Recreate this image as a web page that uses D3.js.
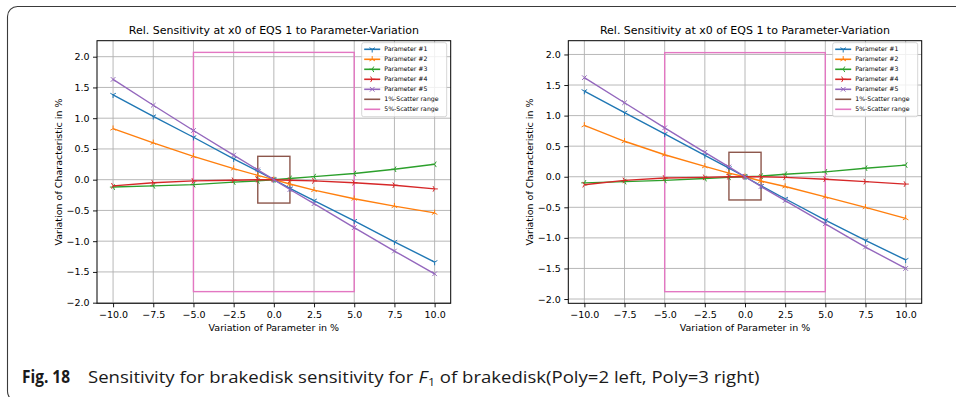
<!DOCTYPE html>
<html>
<head>
<meta charset="utf-8">
<script src="https://cdn.jsdelivr.net/npm/d3@7"></script>
<style>
  body { margin: 0; background: #fff; }
  svg { display: block; font-family: "DejaVu Sans", sans-serif; }
</style>
</head>
<body>
<svg id="fig"></svg>
<script>
const width = 956;
const height = 397;

// Data.
const xValues = [-10, -7.5, -5, -2.5, -1, 0, 1, 2.5, 5, 7.5, 10];
const xTicks = [-10, -7.5, -5, -2.5, 0, 2.5, 5, 7.5, 10];
const yTicks = [-2, -1.5, -1, -0.5, 0, 0.5, 1, 1.5, 2];
const seriesNames = ['Parameter #1', 'Parameter #2', 'Parameter #3', 'Parameter #4', 'Parameter #5'];
const rangeNames = ['1%-Scatter range', '5%-Scatter range'];

// Poly=2 (left)
const leftP1 = [1.38, 1.03, 0.69, 0.34, 0.14, 0, -0.14, -0.34, -0.67, -1.01, -1.34];
const leftP2 = [0.83, 0.60, 0.38, 0.18, 0.07, 0, -0.07, -0.17, -0.31, -0.43, -0.54];
const leftP3 = [-0.12, -0.10, -0.08, -0.04, -0.02, 0, 0.02, 0.05, 0.10, 0.17, 0.25];
const leftP4 = [-0.10, -0.05, -0.02, -0.01, 0.0, 0, -0.01, -0.02, -0.05, -0.09, -0.15];
const leftP5 = [1.63, 1.21, 0.80, 0.40, 0.16, 0, -0.16, -0.39, -0.78, -1.16, -1.53];
// scatter boxes: [x0, x1, y0, y1]
const leftRange1 = [-1, 1, -0.38, 0.38];
const leftRange5 = [-5, 5, -1.82, 2.07];
const leftYDomain = [-2.01, 2.26];

// Poly=3 (right)
const rightP1 = [1.40, 1.05, 0.70, 0.35, 0.14, 0, -0.15, -0.36, -0.71, -1.04, -1.36];
const rightP2 = [0.84, 0.58, 0.36, 0.17, 0.06, 0, -0.07, -0.16, -0.33, -0.50, -0.68];
const rightP3 = [-0.10, -0.08, -0.06, -0.03, -0.01, 0, 0.01, 0.04, 0.08, 0.14, 0.19];
const rightP4 = [-0.13, -0.06, -0.02, -0.01, 0.0, 0, 0.0, -0.01, -0.04, -0.08, -0.12];
const rightP5 = [1.62, 1.21, 0.80, 0.40, 0.16, 0, -0.16, -0.39, -0.77, -1.15, -1.50];
const rightRange1 = [-1, 1, -0.38, 0.40];
const rightRange5 = [-5, 5, -1.88, 2.03];
const rightYDomain = [-2.07, 2.225];

const xDomain = [-11, 11];

const colors = ['#1f77b4', '#ff7f0e', '#2ca02c', '#d62728', '#9467bd'];
const rangeColors = ['#8c564b', '#e377c2'];
const markers = ['tri_down', 'tri_up', 'tri_left', 'tri_right', 'x'];

const titleText = 'Rel. Sensitivity at x0 of EQS 1 to Parameter-Variation';

const svg = d3.select('#fig')
  .attr('width', width)
  .attr('height', height)
  .attr('viewBox', `0 0 ${width} ${height}`);

// Outer figure frame (rounded corner top-left, runs off the right/bottom).
svg.append('rect')
  .attr('x', 7.5)
  .attr('y', 6.5)
  .attr('width', 1000)
  .attr('height', 395)
  .attr('rx', 10)
  .attr('fill', 'none')
  .attr('stroke', '#3a3a3a')
  .attr('stroke-width', 1.1);

// Marker path relative to the point.
function markerPath(kind, r) {
  const s = r * 0.866;
  const h = r * 0.5;
  switch (kind) {
    case 'tri_down': return `M0,0L0,${r}M0,0L${-s},${-h}M0,0L${s},${-h}`;
    case 'tri_up': return `M0,0L0,${-r}M0,0L${-s},${h}M0,0L${s},${h}`;
    case 'tri_left': return `M0,0L${-r},0M0,0L${h},${-s}M0,0L${h},${s}`;
    case 'tri_right': return `M0,0L${r},0M0,0L${-h},${-s}M0,0L${-h},${s}`;
    default: {
      const d = r * 0.72;
      return `M${-d},${-d}L${d},${d}M${-d},${d}L${d},${-d}`;
    }
  }
}

function drawChart(cfg) {
  const { left, right, top, bottom } = cfg.box;
  const g = svg.append('g');

  const xScale = d3.scaleLinear().domain(xDomain).range([left, right]);
  const yScale = d3.scaleLinear().domain(cfg.yDomain).range([bottom, top]);

  // Grid.
  const grid = g.append('g').attr('stroke', '#b0b0b0').attr('stroke-width', 0.9);
  grid.selectAll('line.gx').data(xTicks).join('line')
    .attr('x1', (d) => xScale(d)).attr('x2', (d) => xScale(d))
    .attr('y1', top).attr('y2', bottom);
  grid.selectAll('line.gy').data(yTicks).join('line')
    .attr('class', 'gy')
    .attr('x1', left).attr('x2', right)
    .attr('y1', (d) => yScale(d)).attr('y2', (d) => yScale(d));

  // Scatter range boxes.
  cfg.ranges.forEach((r, i) => {
    g.append('rect')
      .attr('x', xScale(r[0]))
      .attr('y', yScale(r[3]))
      .attr('width', xScale(r[1]) - xScale(r[0]))
      .attr('height', yScale(r[2]) - yScale(r[3]))
      .attr('fill', 'none')
      .attr('stroke', rangeColors[i])
      .attr('stroke-width', 1.4);
  });

  // Series lines + markers.
  const line = d3.line()
    .x((d) => xScale(d[0]))
    .y((d) => yScale(d[1]));

  cfg.series.forEach((vals, i) => {
    const pts = xValues.map((x, j) => [x, vals[j]]);
    g.append('path')
      .datum(pts)
      .attr('d', line)
      .attr('fill', 'none')
      .attr('stroke', colors[i])
      .attr('stroke-width', 1.4);
    g.selectAll(null).data(pts).join('path')
      .attr('transform', (d) => `translate(${xScale(d[0])},${yScale(d[1])})`)
      .attr('d', markerPath(markers[i], 3.2))
      .attr('fill', 'none')
      .attr('stroke', colors[i])
      .attr('stroke-width', 1);
  });

  // Axes.
  const fmt = d3.format('.1f');
  const xAxis = d3.axisBottom(xScale).tickValues(xTicks).tickFormat(fmt)
    .tickSize(4).tickPadding(3.5).tickSizeOuter(0);
  const yAxis = d3.axisLeft(yScale).tickValues(yTicks).tickFormat(fmt)
    .tickSize(4).tickPadding(3.5).tickSizeOuter(0);

  const gx = g.append('g').attr('transform', `translate(0,${bottom})`).call(xAxis);
  const gy = g.append('g').attr('transform', `translate(${left},0)`).call(yAxis);
  [gx, gy].forEach((a) => {
    a.select('.domain').remove();
    a.selectAll('text')
      .attr('font-family', '"DejaVu Sans", sans-serif')
      .attr('font-size', 9.5)
      .attr('fill', '#000');
    a.selectAll('line').attr('stroke', '#000').attr('stroke-width', 0.9);
  });

  // Spines.
  g.append('rect')
    .attr('x', left).attr('y', top)
    .attr('width', right - left).attr('height', bottom - top)
    .attr('fill', 'none')
    .attr('stroke', '#000')
    .attr('stroke-width', 1);

  // Title and axis labels.
  g.append('text')
    .attr('x', (left + right) / 2)
    .attr('y', 33.5)
    .attr('text-anchor', 'middle')
    .attr('font-size', 11)
    .text(titleText);

  g.append('text')
    .attr('x', (left + right) / 2)
    .attr('y', 330.5)
    .attr('text-anchor', 'middle')
    .attr('font-size', 9.5)
    .text('Variation of Parameter in %');

  g.append('text')
    .attr('transform', `translate(${cfg.yLabelX},${(top + bottom) / 2}) rotate(-90)`)
    .attr('text-anchor', 'middle')
    .attr('font-size', 9.5)
    .text('Variation of Characteristic in %');

  // Legend.
  const lg = g.append('g').attr('transform', `translate(${right - 89},${top + 2})`);
  lg.append('rect')
    .attr('width', 85).attr('height', 74)
    .attr('rx', 2)
    .attr('fill', '#fff')
    .attr('fill-opacity', 0.8)
    .attr('stroke', '#cccccc')
    .attr('stroke-width', 0.8);
  const entries = seriesNames.map((n, i) => ({ name: n, color: colors[i], marker: markers[i] }))
    .concat(rangeNames.map((n, i) => ({ name: n, color: rangeColors[i], marker: null })));
  const items = lg.selectAll('g.item').data(entries).join('g')
    .attr('class', 'item')
    .attr('transform', (d, i) => `translate(0,${6.6 + i * 10})`);
  items.append('line')
    .attr('x1', 2.5).attr('x2', 18.5)
    .attr('stroke', (d) => d.color)
    .attr('stroke-width', 1.6);
  items.filter((d) => d.marker)
    .append('path')
    .attr('transform', 'translate(10.5,0)')
    .attr('d', (d) => markerPath(d.marker, 3.2))
    .attr('fill', 'none')
    .attr('stroke', (d) => d.color)
    .attr('stroke-width', 1);
  items.append('text')
    .attr('x', 22.5)
    .attr('dy', '0.35em')
    .attr('font-size', 6.2)
    .text((d) => d.name);
}

drawChart({
  box: { left: 97, right: 450.7, top: 40.7, bottom: 303.3 },
  yDomain: leftYDomain,
  series: [leftP1, leftP2, leftP3, leftP4, leftP5],
  ranges: [leftRange1, leftRange5],
  yLabelX: 62,
});

drawChart({
  box: { left: 568.3, right: 921.7, top: 40.7, bottom: 303.3 },
  yDomain: rightYDomain,
  series: [rightP1, rightP2, rightP3, rightP4, rightP5],
  ranges: [rightRange1, rightRange5],
  yLabelX: 532.5,
});

// Caption: pieces laid out one after another, then squeezed to the
// condensed width of the original typeface.
const capFont = '"Liberation Sans Narrow", "Open Sans", sans-serif';
const capBaseline = 383;

function captionRun(x0, targetWidth, pieces) {
  const g = svg.append('g')
    .attr('font-family', capFont)
    .attr('fill', '#1a1a1a');
  let x = 0;
  pieces.forEach((p) => {
    const t = g.append('text')
      .attr('x', x)
      .attr('y', p.dy || 0)
      .attr('font-size', p.size || 16.5)
      .attr('font-weight', p.weight || 'normal')
      .attr('font-style', p.style || 'normal')
      .attr('xml:space', 'preserve')
      .text(p.text);
    x += t.node().getComputedTextLength() + (p.gap || 0);
  });
  g.attr('transform', `translate(${x0},${capBaseline}) scale(${targetWidth / x},1)`);
}

captionRun(22, 48, [{ text: 'Fig. 18', weight: 'bold', size: 17 }]);
captionRun(88, 672, [
  { text: 'Sensitivity for brakedisk sensitivity for ' },
  { text: 'F', style: 'italic', gap: 0.5 },
  { text: '1', size: 11, dy: 3 },
  { text: ' of brakedisk(Poly=2 left, Poly=3 right)' },
]);
</script>
</body>
</html>
